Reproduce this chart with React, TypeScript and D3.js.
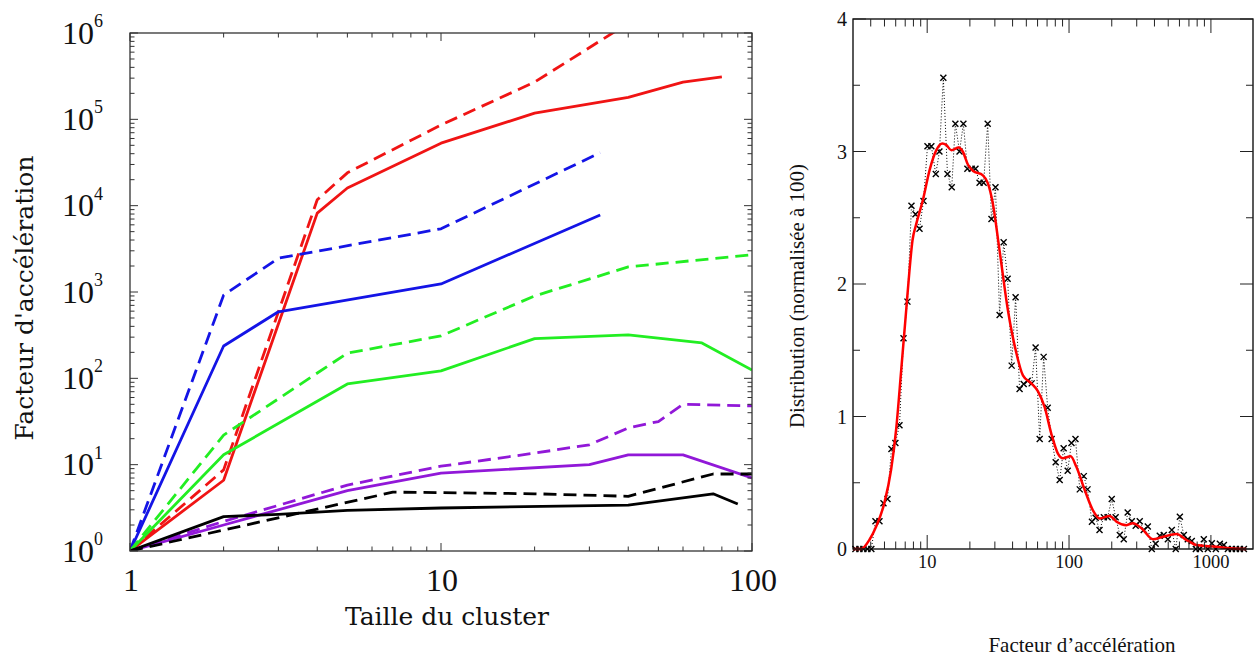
import React from 'react';
import * as d3 from 'd3';

// ---------- Left panel data: acceleration factor vs cluster size ----------
const redSolid: [number, number][] = [[1, 1], [2, 6.6], [4, 8200], [5, 16000], [10, 53000], [20, 118000], [40, 180000], [60, 270000], [80, 310000]];
const redDashed: [number, number][] = [[1, 1], [2, 8.7], [4, 11700], [5, 24000], [10, 86000], [20, 270000], [40, 1300000]];
const blueSolid: [number, number][] = [[1, 1], [2, 237], [3, 590], [10, 1240], [32.5, 7800]];
const blueDashed: [number, number][] = [[1, 1], [2, 920], [3, 2460], [10, 5400], [32.5, 41000]];
const greenSolid: [number, number][] = [[1, 1], [2, 13], [5, 86], [10, 122], [20, 288], [40, 318], [69, 257], [100, 125]];
const greenDashed: [number, number][] = [[1, 1], [2, 22], [5, 196], [10, 310], [20, 900], [40, 1950], [100, 2700]];
const purpleSolid: [number, number][] = [[1, 1], [2, 2.0], [5, 5], [10, 8], [30, 10], [40, 13], [60, 13], [100, 7]];
const purpleDashed: [number, number][] = [[1, 1], [2, 2.2], [5, 5.8], [10, 9.6], [20, 13.6], [30, 17], [40, 26.6], [50, 31.6], [60, 50], [100, 48]];
const blackSolid: [number, number][] = [[1, 1], [2, 2.5], [3, 2.66], [5, 2.95], [10, 3.15], [40, 3.4], [75, 4.6], [90, 3.5]];
const blackDashed: [number, number][] = [[1, 1], [2, 1.75], [7, 4.8], [10, 4.75], [20, 4.6], [40, 4.3], [75, 7.8], [100, 7.8]];

const leftSeries = [
  { data: redDashed, color: '#f01414', dashed: true },
  { data: redSolid, color: '#f01414', dashed: false },
  { data: blueDashed, color: '#1414e6', dashed: true },
  { data: blueSolid, color: '#1414e6', dashed: false },
  { data: greenDashed, color: '#22ee22', dashed: true },
  { data: greenSolid, color: '#22ee22', dashed: false },
  { data: purpleDashed, color: '#9118d8', dashed: true },
  { data: purpleSolid, color: '#9118d8', dashed: false },
  { data: blackDashed, color: '#000000', dashed: true },
  { data: blackSolid, color: '#000000', dashed: false },
];

const leftXTickLabels = ['1', '10', '100'];
const leftXTickValues = [1, 10, 100];
const leftYExponents = ['0', '1', '2', '3', '4', '5', '6'];
const leftYTickValues = [1, 10, 100, 1e3, 1e4, 1e5, 1e6];

// ---------- Right panel data: distribution of acceleration factor ----------
const accelBins = [
  3.12, 3.33, 3.55, 3.79, 4.04, 4.32, 4.61, 4.92, 5.25, 5.60,
  5.97, 6.38, 6.81, 7.26, 7.75, 8.27, 8.83, 9.42, 10.05, 10.7,
  11.5, 12.2, 13.0, 13.9, 14.9, 15.8, 16.9, 18.0, 19.2, 20.6,
  21.9, 23.4, 25.0, 26.7, 28.4, 30.3, 32.4, 34.6, 36.9, 39.4,
  42.0, 44.8, 47.9, 51.1, 54.5, 58.1, 62.1, 66.2, 70.7, 75.4,
  80.5, 85.9, 91.6, 97.8, 104, 111, 119, 127, 135, 145,
  154, 164, 176, 187, 200, 213, 228, 243, 259, 277,
  295, 315, 336, 359, 383, 408, 436, 465, 497, 530,
  565, 604, 644, 687, 733, 783, 835, 891, 951, 1015,
  1083, 1156, 1234, 1317, 1406, 1500, 1600, 1708,
];
const distribution = [
  0, 0, 0, 0, 0, 0.21, 0.21, 0.345, 0.377, 0.755,
  0.80, 0.934, 1.59, 1.867, 2.59, 2.526, 2.417, 2.626, 3.04, 3.04,
  2.83, 3.0, 3.557, 2.83, 2.73, 3.21, 3.0, 3.21, 2.87, 2.87,
  2.87, 2.765, 2.765, 3.21, 2.49, 2.73, 1.766, 2.315, 2.04, 1.384,
  1.90, 1.207, 1.245, 1.27, 1.25, 1.52, 0.83, 1.45, 1.066, 0.83,
  0.654, 0.52, 0.76, 0.59, 0.80, 0.83, 0.45, 0.55, 0.45, 0.206,
  0.236, 0.143, 0.24, 0.24, 0.377, 0.24, 0.106, 0.073, 0.275, 0.21,
  0.175, 0.21, 0.143, 0.17, 0, 0.04, 0.1, 0.106, 0.073, 0.143,
  0, 0.244, 0.106, 0.073, 0.06, 0, 0, 0.073, 0, 0.043,
  0, 0.04, 0.03, 0, 0, 0, 0, 0,
];
const smoothX = [
  3.0, 3.42, 3.92, 4.37, 5.0, 5.57, 6.04, 6.56, 7.11, 7.5,
  7.88, 8.36, 9.31, 10.4, 11.6, 12.8, 13.6, 14.8, 16.7, 17.8,
  19.4, 21.0, 24.7, 26.8, 29.0, 32.4, 37.1, 42.5, 47.3, 54.2,
  60.4, 67.3, 75.0, 83.5, 90.6, 102.6, 112.6, 129, 147.6, 164.5,
  193.5, 216, 254, 282, 324, 391, 448, 572, 673, 791,
  1096, 1360, 1780,
];
const smoothY = [
  0, 0, 0.07, 0.17, 0.35, 0.6, 0.9, 1.35, 1.8, 2.1,
  2.33, 2.45, 2.63, 2.86, 3.01, 3.06, 3.05, 3.01, 3.03, 3.0,
  2.9, 2.855, 2.82, 2.76, 2.61, 2.25, 1.8, 1.48, 1.31, 1.25,
  1.19, 1.07, 0.87, 0.72, 0.685, 0.70, 0.62, 0.445, 0.29, 0.23,
  0.25, 0.206, 0.18, 0.194, 0.156, 0.073, 0.088, 0.113, 0.068, 0.03,
  0.017, 0.005, 0,
];
const rightXTickLabels = ['10', '100', '1000'];
const rightXTickValues = [10, 100, 1000];
const rightYTickLabels = ['0', '1', '2', '3', '4'];

export default function App() {
  // Left panel scales
  const xL = d3.scaleLog().domain([1, 100]).range([130, 752]);
  const yL = d3.scaleLog().domain([1, 1e6]).range([551, 33]);
  const [lx0, lx1] = xL.range();
  const [ly0, ly1] = yL.range();
  const lineL = d3.line<[number, number]>().x(d => xL(d[0])).y(d => yL(d[1]));

  const isPow10 = (v: number) => Math.abs(Math.log10(v) - Math.round(Math.log10(v))) < 1e-9;
  const lxTicks = xL.ticks();
  const lyTicks = yL.ticks();

  // Right panel scales
  const xR = d3.scaleLog().domain([3, 1980]).range([853, 1253]);
  const yR = d3.scaleLinear().domain([0, 4]).range([549, 19]);
  const [rx0, rx1] = xR.range();
  const [ry0, ry1] = yR.range();
  const rxTicks = xR.ticks().filter(v => v > 3.01 && v < 1980);
  const ryTicks = d3.range(0, 4.01, 0.5);
  const pts = accelBins.map((x, i) => [xR(x), yR(distribution[i])] as [number, number]);
  const dotted = d3.line<[number, number]>().x(d => d[0]).y(d => d[1])(pts) || '';
  const smooth = d3.line<number>()
    .x((_, i) => xR(smoothX[i]))
    .y(d => yR(d))
    .curve(d3.curveMonotoneX)(smoothY) || '';

  const serif = '"Liberation Serif", "Times New Roman", serif';
  const serif2 = '"DejaVu Serif", serif';

  return (
    <svg width={1255} height={659} style={{ position: 'absolute', left: 0, top: 0, background: '#fff' }}>
      <defs>
        <clipPath id="clipL">
          <rect x={lx0} y={ly1} width={lx1 - lx0} height={ly0 - ly1} />
        </clipPath>
      </defs>

      {/* ---------------- Left panel ---------------- */}
      <g>
        <g clipPath="url(#clipL)">
          {leftSeries.map((s, i) => (
            <path key={i} d={lineL(s.data) || ''} fill="none" stroke={s.color} strokeWidth={2.8}
              strokeDasharray={s.dashed ? '13,7' : undefined} strokeLinejoin="round" />
          ))}
        </g>
        <rect x={lx0} y={ly1} width={lx1 - lx0} height={ly0 - ly1} fill="none" stroke="#333" strokeWidth={1.3} />
        {lxTicks.map((v, i) => {
          const len = isPow10(v) ? 8 : 4.5;
          const x = xL(v);
          return (
            <g key={'lx' + i} stroke="#333" strokeWidth={1}>
              <line x1={x} x2={x} y1={ly0} y2={ly0 - len} />
              <line x1={x} x2={x} y1={ly1} y2={ly1 + len} />
            </g>
          );
        })}
        {lyTicks.map((v, i) => {
          const len = isPow10(v) ? 8 : 4.5;
          const y = yL(v);
          return (
            <g key={'ly' + i} stroke="#333" strokeWidth={1}>
              <line x1={lx0} x2={lx0 + len} y1={y} y2={y} />
              <line x1={lx1} x2={lx1 - len} y1={y} y2={y} />
            </g>
          );
        })}
        {leftYTickValues.map((v, i) => (
          <text key={'lyl' + i} x={62} y={yL(v) + 10.5} fontFamily={serif} fontSize={32} fill="#111">
            10<tspan dy={-16.5} fontSize={18}>{leftYExponents[i]}</tspan>
          </text>
        ))}
        {leftXTickValues.map((v, i) => (
          <text key={'lxl' + i} x={xL(v) + 1} y={591} fontFamily={serif} fontSize={32} fill="#111" textAnchor="middle">
            {leftXTickLabels[i]}
          </text>
        ))}
        <text x={447} y={625} fontFamily={serif2} fontSize={25} fill="#111" textAnchor="middle">Taille du cluster</text>
        <text transform="translate(33,298) rotate(-90)" fontFamily={serif2} fontSize={25} fill="#111" textAnchor="middle">
          Facteur d'accélération
        </text>
      </g>

      {/* ---------------- Right panel ---------------- */}
      <g>
        <path d={dotted} fill="none" stroke="#000" strokeWidth={1} strokeDasharray="1,2" />
        {pts.map((p, i) => (
          <path key={'c' + i} d={`M${p[0] - 3},${p[1] - 3}L${p[0] + 3},${p[1] + 3}M${p[0] - 3},${p[1] + 3}L${p[0] + 3},${p[1] - 3}`}
            stroke="#000" strokeWidth={1.4} fill="none" />
        ))}
        <path d={smooth} fill="none" stroke="#ff0000" strokeWidth={2.5} />
        <rect x={rx0} y={ry1} width={rx1 - rx0} height={ry0 - ry1} fill="none" stroke="#000" strokeWidth={1.3} />
        {rxTicks.map((v, i) => {
          const len = isPow10(v) ? 14 : 7.5;
          const x = xR(v);
          return (
            <g key={'rx' + i} stroke="#222" strokeWidth={1}>
              <line x1={x} x2={x} y1={ry0} y2={ry0 - len} />
              <line x1={x} x2={x} y1={ry1} y2={ry1 + len} />
            </g>
          );
        })}
        {ryTicks.map((v, i) => {
          const len = Number.isInteger(v) ? 13 : 7;
          const y = yR(v);
          return (
            <g key={'ry' + i} stroke="#222" strokeWidth={1}>
              <line x1={rx0} x2={rx0 + len} y1={y} y2={y} />
              <line x1={rx1} x2={rx1 - len} y1={y} y2={y} />
            </g>
          );
        })}
        {rightYTickLabels.map((t, i) => (
          <text key={'ryl' + i} x={847} y={yR(i) + 7} fontFamily={serif} fontSize={20} fill="#111" textAnchor="end">{t}</text>
        ))}
        {rightXTickValues.map((v, i) => (
          <text key={'rxl' + i} x={xR(v)} y={568} fontFamily={serif} fontSize={18.5} fill="#111" textAnchor="middle">{rightXTickLabels[i]}</text>
        ))}
        <text x={1082} y={652} fontFamily={serif} fontSize={21} fill="#111" textAnchor="middle">Facteur d’accélération</text>
        <text transform="translate(804,296) rotate(-90)" fontFamily={serif} fontSize={21} fill="#111" textAnchor="middle">
          Distribution (normalisée à 100)
        </text>
      </g>
    </svg>
  );
}
